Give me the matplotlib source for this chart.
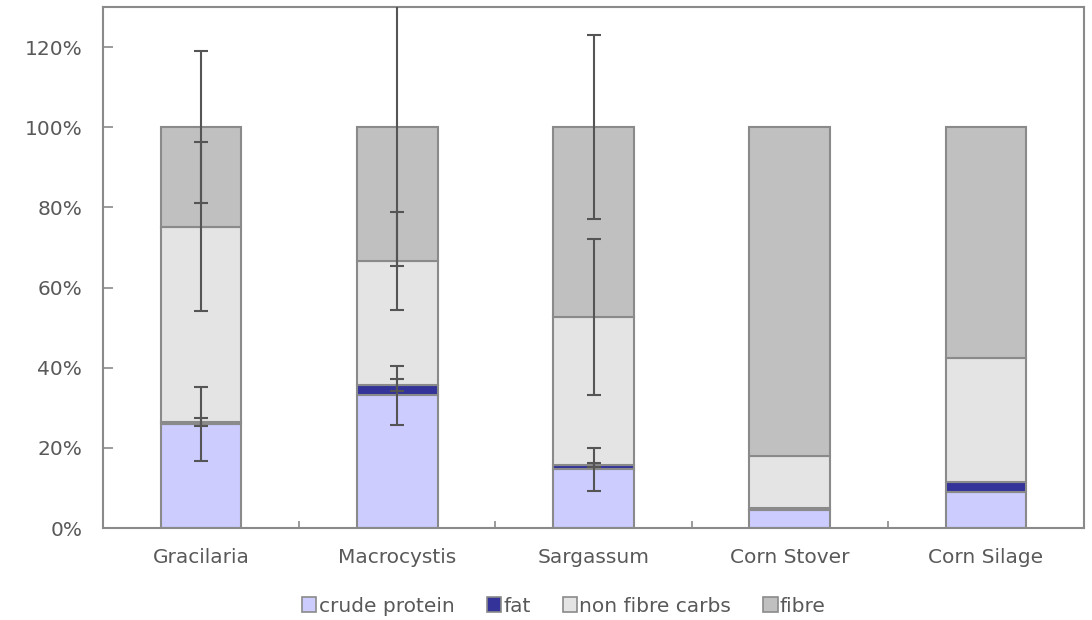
import numpy as np
import matplotlib
matplotlib.use("Agg")
import matplotlib.pyplot as plt
from matplotlib.patches import Patch
from matplotlib.ticker import FuncFormatter, FixedLocator

plt.rcParams['font.family'] = ['DejaVu Sans']

categories = ["Gracilaria", "Macrocystis", "Sargassum", "Corn Stover", "Corn Silage"]
series_names = ["crude protein", "fat", "non fibre carbs", "fibre"]

crude_protein = [25.9, 33.1, 14.6, 4.5, 9.1]
fat = [0.5, 2.6, 1.2, 0.6, 2.5]
non_fibre_carbs = [48.8, 30.9, 36.9, 12.9, 30.8]
fibre = [24.8, 33.4, 47.3, 82.0, 57.6]

err_protein = [9.3, 7.3, 5.4, np.nan, np.nan]
err_fat = [1.0, 1.5, 0.5, np.nan, np.nan]
err_nfc = [21.0, 12.3, 19.4, np.nan, np.nan]
err_fibre = [19.0, 34.7, 23.0, np.nan, np.nan]

colors = ["#CCCCFF", "#333399", "#E4E4E4", "#C0C0C0"]
edge = "#8a8a8a"
text_col = "#595959"
fs = 14.5

fig = plt.figure(figsize=(10.92, 6.2), dpi=100)
ax = fig.add_axes([103/1092, 92/620, (1084-103)/1092, (528-7)/620])

x = np.arange(len(categories))
width = 0.41
series = [crude_protein, fat, non_fibre_carbs, fibre]
errs = [err_protein, err_fat, err_nfc, err_fibre]
bottom = np.zeros(len(categories))
tops = []
for vals, c in zip(series, colors):
    vals = np.array(vals)
    ax.bar(x, vals, width, bottom=bottom, color=c, edgecolor=edge, linewidth=1.5, zorder=2)
    bottom = bottom + vals
    tops.append(bottom.copy())

for t, e in zip(tops, errs):
    ax.errorbar(x, t, yerr=np.array(e), fmt='none', ecolor="#555555", elinewidth=1.5,
                capsize=4.7, capthick=1.5, zorder=3)

ax.set_xlim(-0.5, len(categories) - 0.5)
ax.set_ylim(0, 130)
ax.set_yticks(np.arange(0, 121, 20))
ax.yaxis.set_major_formatter(FuncFormatter(lambda v, p: f"{int(v)}%"))
ax.set_xticks(x)
ax.set_xticklabels(categories)
ax.xaxis.set_minor_locator(FixedLocator(np.arange(0.5, len(categories) - 0.5, 1)))
ax.tick_params(axis='x', which='major', length=0, pad=14.5, labelsize=fs, labelcolor=text_col)
ax.tick_params(axis='x', which='minor', direction='in', length=5, width=1.2, color=edge)
ax.tick_params(axis='y', direction='in', length=7, width=1.2, color=edge, pad=15,
               labelsize=fs, labelcolor=text_col)
for s in ax.spines.values():
    s.set_color(edge)
    s.set_linewidth(1.5)

handles = [Patch(facecolor=c, edgecolor=edge, linewidth=1.2) for c in colors]
fig.legend(handles, series_names, loc='center', bbox_to_anchor=(564/1092, 1 - 606/620),
           ncol=4, frameon=False, fontsize=fs, handlelength=0.7, handleheight=0.7,
           handletextpad=0.12, columnspacing=1.6, labelcolor=text_col)

fig.savefig("out.png", dpi=100)
